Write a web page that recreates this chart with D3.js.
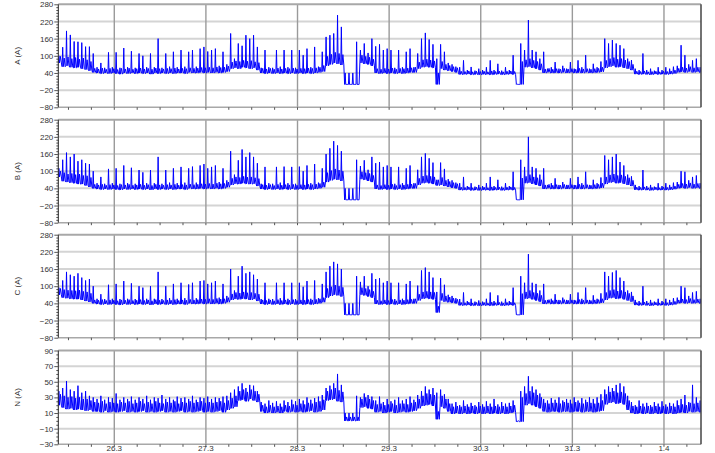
<!DOCTYPE html>
<html><head><meta charset="utf-8">
<script src="https://cdn.jsdelivr.net/npm/d3@7"></script>
<style>body{margin:0;background:#fff}svg{display:block}</style>
</head><body><svg id="c" width="715" height="453"></svg>
<script>
// ---- data (hourly samples from 25.3 09:20; lo = band bottom, mid = band top, hi = spike) ----
const dayLabels = ["26.3","27.3","28.3","29.3","30.3","31.3","1.4"];
const panelNames = ["A (A)","B (A)","C (A)","N (A)"];
const phaseTicks = [280,220,160,100,40,-20,-80];
const neutralTicks = [90,70,50,30,10,-10,-30];

const aLo = [75,62,65,60,58,60,55,52,48,42, 40,38,40,38,40,38,36,40,38,40, 38,40,38,40,36,40,38,40,38,40,
  38,40,40,38,42,40,40,42,40,42, 40,42,40,42,45,55,58,55,60,58, 55,58,50,40,38,40,38,40,38,40,
  38,40,38,40,38,40,38,40,42,45, 65,70,75,72,68,0,0,0,0,75, 72,70,65,40,38,40,38,40,38,40,
  38,40,42,42,55,60,62,60,58,0, 55,50,48,45,42,35,35,36,34,35, 34,35,35,34,35,36,34,35,36,35,
  0,0,60,62,58,55,50,40,42,40, 41,40,42,40,42,40,41,40,42,40, 41,42,44,58,62,65,60,62,58,55,
  50,36,35,36,35,34,36,35,36,35, 36,38,42,44,42,45,42,44,42];
const aMid = [98,92,96,90,94,88,92,86,80,56, 54,57,53,56,55,52,56,54,57,53, 55,57,54,56,53,57,55,54,56,55,
  57,54,56,55,58,56,57,59,58,60, 58,61,59,60,64,78,82,80,84,81, 83,79,76,56,54,56,53,57,54,56,
  55,57,54,56,55,57,56,58,60,66, 98,105,112,108,104,0,0,0,0,102, 98,95,88,55,53,56,54,57,53,56,
  55,57,58,60,78,86,88,85,82,40, 80,70,66,62,58,46,45,47,44,46, 45,46,44,47,45,46,44,46,47,45,
  0,80,86,90,84,80,72,54,56,53, 55,53,56,54,55,53,56,54,55,53, 55,56,60,84,90,94,88,90,85,80,
  70,46,45,47,44,45,46,44,46,45, 47,50,56,60,57,62,58,60,57];
const aHi = [100,130,187,173,150,149,146,132,132,108, 60,75,58,112,60,112,58,127,60,116, 58,108,100,60,108,60,160,58,108,62,
  114,60,120,62,114,120,62,125,131,115, 120,125,65,114,70,178,90,143,135,172, 160,172,131,58,120,60,58,120,62,120,
  60,120,58,120,102,125,60,131,62,114, 166,172,178,242,201,40,40,40,149,120, 143,110,160,133,140,120,125,120,58,120,
  60,114,125,60,108,160,180,157,140,90, 140,114,75,70,62,60,84,50,61,48, 55,50,60,84,50,72,48,60,50,102,
  2,143,120,225,120,114,90,114,55,60, 78,55,65,55,78,55,84,60,102,55, 72,60,80,160,143,155,143,137,125,90,
  85,55,50,108,50,55,48,60,50,60, 55,62,65,137,102,70,84,90,60];

const bLo = [80,65,62,60,58,55,55,50,45,40, 38,36,38,36,38,36,35,38,36,38, 36,38,36,38,35,38,36,38,36,38,
  36,38,38,36,40,38,38,40,38,40, 38,40,38,40,44,52,56,55,58,56, 55,56,48,38,36,38,36,38,36,38,
  36,38,36,38,36,38,36,38,40,44, 62,68,72,70,66,0,0,0,0,72, 70,66,62,38,36,38,36,38,36,38,
  36,38,40,40,52,58,60,58,55,50, 52,48,45,42,40,34,34,35,33,34, 33,34,34,33,34,35,33,34,35,34,
  0,0,58,60,56,52,48,38,40,38, 39,38,40,38,40,38,39,38,40,38, 39,40,42,55,60,62,58,60,56,52,
  48,35,34,35,34,33,35,34,35,34, 35,37,40,42,40,43,40,42,40];
const bMid = [100,95,90,92,88,90,85,84,78,54, 52,54,51,53,52,50,53,52,54,51, 52,54,51,53,50,54,52,51,53,52,
  54,51,53,52,55,53,54,56,55,57, 55,58,56,57,62,75,80,78,82,79, 80,77,74,53,51,53,50,54,51,53,
  52,54,51,53,52,54,53,55,57,62, 95,102,108,104,100,0,0,0,0,98, 95,92,85,52,50,53,51,54,50,53,
  52,54,55,57,75,83,85,82,80,70, 78,68,64,60,56,44,43,45,42,44, 43,44,42,45,43,44,42,44,45,43,
  0,76,82,88,80,77,70,52,54,51, 53,51,54,52,53,51,54,52,53,51, 53,54,58,80,87,90,85,87,82,77,
  68,44,43,45,42,43,44,42,44,43, 45,48,54,57,55,59,55,57,55];
const bHi = [110,140,165,150,160,135,140,128,125,100, 58,80,56,108,58,110,56,120,58,112, 56,104,96,58,104,58,150,56,104,60,
  110,58,115,60,110,116,60,120,125,110, 115,120,62,110,68,170,88,138,176,150, 165,150,128,56,115,58,56,115,60,116,
  58,115,56,116,100,120,58,125,60,110, 160,180,205,190,170,40,40,40,140,118, 138,105,150,128,132,115,120,115,56,115,
  58,110,120,58,105,150,162,145,130,70, 130,108,72,68,60,58,80,48,58,46, 52,48,58,80,48,70,46,58,48,98,
  2,140,115,220,115,110,88,110,52,58, 75,52,62,52,75,52,80,58,98,52, 70,58,78,155,140,150,160,132,120,88,
  82,52,48,104,48,52,46,58,48,58, 52,60,62,100,98,68,80,85,58];

const cLo = [70,60,58,56,55,55,52,48,45,40, 38,36,38,36,38,36,35,38,36,38, 36,38,36,38,35,38,36,38,36,38,
  36,38,38,36,40,38,38,40,38,40, 38,40,38,40,44,52,55,54,56,55, 52,55,48,38,36,38,36,38,36,38,
  36,38,36,38,36,38,36,38,40,44, 60,66,70,68,64,0,0,0,0,70, 68,64,60,38,36,38,36,38,36,38,
  36,38,40,40,50,56,58,56,54,8, 50,46,44,42,40,33,33,34,32,33, 32,33,33,32,33,34,32,33,34,33,
  0,0,56,58,54,50,46,38,40,38, 39,38,40,38,40,38,39,38,40,38, 39,40,42,52,58,60,56,58,54,50,
  46,34,33,34,33,32,34,33,34,33, 34,36,40,42,40,42,40,42,40];
const cMid = [92,88,86,85,84,86,82,80,75,52, 51,53,50,52,51,49,52,51,53,50, 51,53,50,52,49,53,51,50,52,51,
  53,50,52,51,54,52,53,55,54,56, 54,57,55,56,60,73,78,76,80,77, 78,75,72,52,50,52,49,53,50,52,
  51,53,50,52,51,53,52,54,56,60, 92,98,104,100,96,0,0,0,0,95, 92,88,82,51,49,52,50,53,49,52,
  51,53,54,56,72,80,82,80,78,30, 75,66,62,58,54,43,42,44,41,43, 42,43,41,44,42,43,41,43,44,42,
  0,74,80,85,78,75,68,51,53,50, 52,50,53,51,52,50,53,51,52,50, 52,53,56,78,85,88,83,85,80,75,
  66,43,42,44,41,42,43,41,43,42, 44,47,52,55,53,57,53,55,53];
const cHi = [95,120,150,140,135,145,130,120,125,100, 56,72,55,105,56,108,55,118,56,110, 55,100,95,56,100,56,150,55,100,58,
  108,56,112,58,106,112,58,118,120,108, 112,118,60,108,66,160,85,135,170,145, 150,140,125,55,112,56,55,112,58,112,
  56,112,55,112,98,118,56,120,58,108, 150,170,185,178,160,40,40,40,135,115, 135,100,145,125,128,112,118,112,55,112,
  56,108,118,56,102,155,165,150,130,80, 128,105,70,66,58,55,78,48,56,46, 50,46,56,78,48,68,46,56,48,95,
  2,135,112,212,112,108,85,108,52,56, 72,52,60,52,72,52,78,56,95,52, 68,56,75,150,135,148,155,130,118,85,
  80,52,48,100,48,52,46,56,48,56, 52,58,60,100,95,66,78,82,56];

const nLo = [20,17,15,16,14,15,14,13,14,12, 12,11,13,11,12,11,12,13,11,12, 11,12,13,11,12,11,12,13,11,12,
  11,12,13,11,12,11,12,13,11,12, 11,12,13,11,14,16,18,26,27,25, 28,26,24,12,10,11,10,11,10,12,
  11,12,11,12,11,12,13,11,12,14, 26,27,28,25,24,0,0,0,0,17, 18,16,15,11,12,10,11,12,10,11,
  12,11,12,13,16,19,20,21,19,2, 18,16,12,9,10,9,10,9,10,9, 10,9,10,9,10,9,10,9,10,11,
  -1,-1,20,22,20,18,16,12,11,12, 12,11,12,12,11,12,12,11,12,12, 11,12,13,21,23,24,22,23,21,14,
  10,9,10,9,10,9,10,9,10,9, 10,9,10,11,10,12,11,12,11];
const nMid = [34,32,30,31,29,30,28,28,26,24, 23,25,22,24,23,22,24,23,25,22, 23,25,22,24,22,25,23,22,24,23,
  25,22,24,23,25,23,24,25,23,24, 23,24,25,23,26,29,32,38,40,37, 40,38,34,20,18,20,18,19,18,20,
  19,21,20,22,21,23,22,24,25,27, 38,40,42,39,37,5,5,5,5,28, 30,28,26,21,22,20,21,22,20,22,
  22,21,23,24,28,32,35,34,33,12, 32,28,22,18,19,18,19,18,19,18, 19,18,19,18,19,18,19,18,19,20,
  0,30,35,38,36,33,30,23,22,23, 23,22,24,23,22,24,23,22,24,23, 22,23,26,34,37,38,36,37,35,26,
  19,18,19,18,19,18,19,18,19,18, 19,18,20,21,20,23,22,23,22];
const nHi = [38,42,51,40,38,45,36,38,32,30, 28,32,27,30,29,35,27,30,28,31, 27,30,28,32,27,30,29,33,28,30,
  27,31,29,30,28,32,27,30,29,31, 28,30,29,31,32,36,40,44,48,42, 46,45,38,24,22,26,23,25,22,26,
  24,27,25,28,26,30,27,29,31,33, 42,45,48,60,46,10,10,10,32,30, 35,33,31,26,31,24,28,25,27,30,
  26,28,31,27,33,38,44,40,42,36, 40,34,28,22,24,20,26,21,23,20, 24,21,25,22,28,21,24,22,23,26,
  0,38,44,57,44,40,35,28,26,29, 27,30,26,28,27,30,26,29,27,30, 28,30,34,40,44,42,46,48,44,32,
  24,20,26,22,23,20,24,22,25,21, 23,22,26,28,33,24,46,30,26];

// ---- layout ----
const left = 58.3, right = 701;
const panels = [
  {name: panelNames[0], lo: aLo, mid: aMid, hi: aHi, ticks: phaseTicks, top: 4.3, bottom: 107.3, minorStep: 10},
  {name: panelNames[1], lo: bLo, mid: bMid, hi: bHi, ticks: phaseTicks, top: 119.7, bottom: 222.7, minorStep: 10},
  {name: panelNames[2], lo: cLo, mid: cMid, hi: cHi, ticks: phaseTicks, top: 234.7, bottom: 337.7, minorStep: 10},
  {name: panelNames[3], lo: nLo, mid: nMid, hi: nHi, ticks: neutralTicks, top: 350.5, bottom: 444.3, minorStep: 5}
];
const t0 = Date.UTC(2020, 2, 25, 9, 20);
const t1 = Date.UTC(2020, 3, 1, 9, 42);
const HOUR = 3600e3;
const x = d3.scaleUtc().domain([t0, t1]).range([left, right]);
const dayDates = dayLabels.map((d, i) => new Date(Date.UTC(2020, 2, 26 + i)));
const sixHours = d3.utcHour.every(6).range(new Date(t0), new Date(t1));

const svg = d3.select("#c");
const font = "'Liberation Sans', Arial, sans-serif";

panels.forEach((p, pi) => {
  const y = d3.scaleLinear().domain([p.ticks[p.ticks.length - 1], p.ticks[0]]).range([p.bottom, p.top]);
  const g = svg.append("g");
  const clipId = "clip" + pi;
  g.append("clipPath").attr("id", clipId).append("rect")
    .attr("x", left).attr("y", p.top).attr("width", right - left).attr("height", p.bottom - p.top);

  // horizontal grid
  g.selectAll(".hg").data(p.ticks.slice(1, -1)).join("line")
    .attr("x1", left).attr("x2", right).attr("y1", d => y(d)).attr("y2", d => y(d))
    .attr("stroke", "#d4d4d4").attr("stroke-width", 2);
  // vertical day grid
  g.selectAll(".vg").data(dayDates).join("line")
    .attr("x1", d => x(d)).attr("x2", d => x(d)).attr("y1", p.top).attr("y2", p.bottom)
    .attr("stroke", "#9a9a9a").attr("stroke-width", 1.4);

  // series: each hour drawn as lo -> spike -> lo -> band top -> lo
  const pts = [];
  p.lo.forEach((v, i) => {
    pts.push([t0 + i * HOUR, v]);
    pts.push([t0 + (i + 0.15) * HOUR, p.hi[i]]);
    pts.push([t0 + (i + 0.3) * HOUR, v]);
    pts.push([t0 + (i + 0.55) * HOUR, p.mid[i]]);
    pts.push([t0 + (i + 0.8) * HOUR, v]);
  });
  const line = d3.line().x(d => x(d[0])).y(d => y(d[1]));
  g.append("path").datum(pts).attr("clip-path", `url(#${clipId})`)
    .attr("d", line).attr("fill", "none").attr("stroke", "#0000ff").attr("stroke-width", 1)
    .attr("stroke-linejoin", "miter");

  // frame
  g.append("line").attr("x1", left).attr("x2", right).attr("y1", p.top).attr("y2", p.top)
    .attr("stroke", "#a8a8a8").attr("stroke-width", 2);
  g.append("line").attr("x1", left).attr("x2", right).attr("y1", p.bottom).attr("y2", p.bottom)
    .attr("stroke", "#a8a8a8").attr("stroke-width", 1.5);
  g.append("line").attr("x1", right).attr("x2", right).attr("y1", p.top).attr("y2", p.bottom)
    .attr("stroke", "#444").attr("stroke-width", 1.5);

  // minor x ticks
  g.selectAll(".xt").data(sixHours).join("line")
    .attr("x1", d => x(d)).attr("x2", d => x(d)).attr("y1", p.bottom).attr("y2", p.bottom + 2.5)
    .attr("stroke", "#555").attr("stroke-width", 1);

  // y axis
  const lo = p.ticks[p.ticks.length - 1], hi = p.ticks[0];
  const minor = d3.range(lo, hi + 0.001, p.minorStep).filter(v => !p.ticks.includes(v));
  const minorAxis = d3.axisLeft(y).tickValues(minor).tickSize(2).tickFormat("");
  const ma = g.append("g").attr("transform", `translate(${left},0)`).call(minorAxis);
  ma.select(".domain").remove();
  ma.selectAll("line").attr("stroke", "#555");
  const axis = d3.axisLeft(y).tickValues(p.ticks).tickSize(4).tickPadding(1).tickFormat(d3.format("d"));
  const ax = g.append("g").attr("transform", `translate(${left},0)`).call(axis);
  ax.select(".domain").attr("stroke", "#222").attr("d", `M0,${p.top}V${p.bottom}`);
  ax.selectAll(".tick line").attr("stroke", "#555");
  ax.selectAll("text").attr("font-family", font).attr("font-size", 8).attr("fill", "#333");

  // y title
  g.append("text").attr("transform", `translate(20,${(p.top + p.bottom) / 2}) rotate(-90)`)
    .attr("text-anchor", "middle").attr("font-family", font).attr("font-size", 8).attr("fill", "#333")
    .text(p.name);

  if (pi === panels.length - 1) {
    g.selectAll(".xl").data(dayDates).join("text")
      .attr("x", d => x(d)).attr("y", 450.8).attr("text-anchor", "middle")
      .attr("font-family", font).attr("font-size", 8).attr("fill", "#333")
      .text((d, i) => dayLabels[i]);
  }
});
</script>
</body></html>
